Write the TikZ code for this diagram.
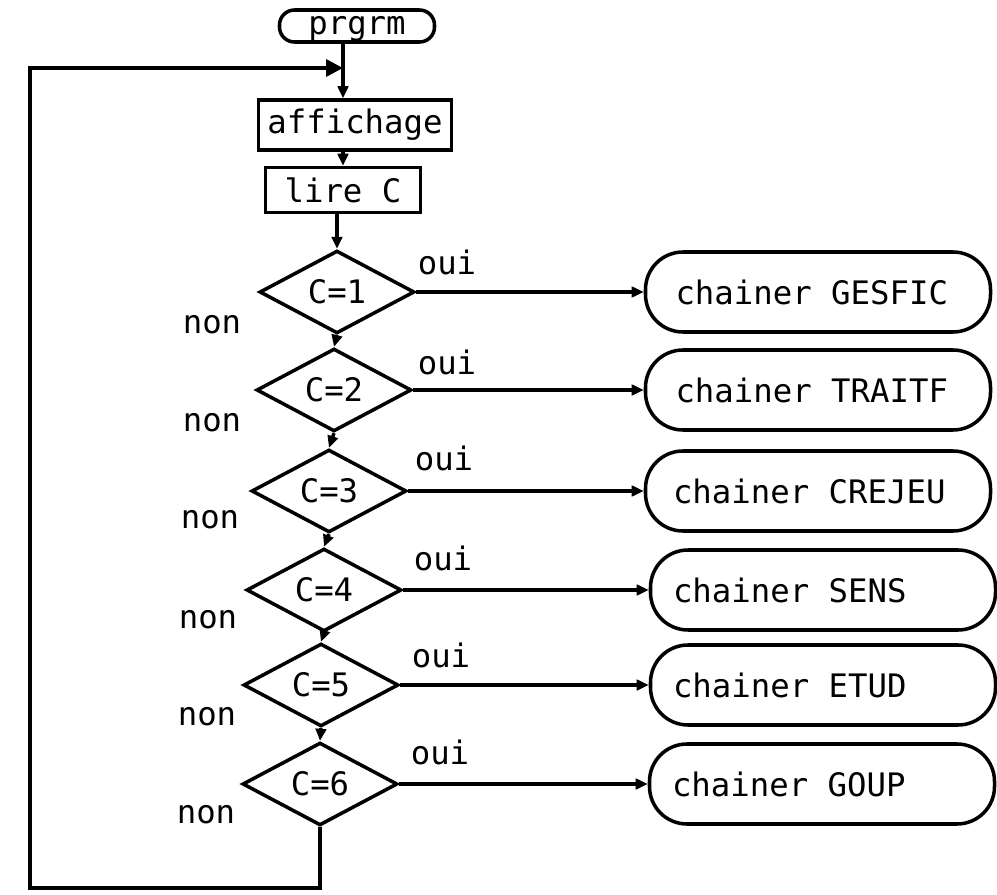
\documentclass[tikz,border=0pt]{standalone}
\usepackage{fontspec}
\setmonofont{DejaVu Sans Mono}
\usetikzlibrary{shapes.geometric, arrows.meta, positioning, calc}

\begin{document}
\begin{tikzpicture}[x=0.2mm, y=-0.2mm, line width=2pt,
  every node/.style={font=\ttfamily\fontsize{18.4}{22}\selectfont},
  term/.style={draw, rounded corners=3mm, minimum width=31mm, minimum height=6.4mm, inner sep=0pt, text height=10pt, text depth=0pt},
  proc/.style={draw, minimum height=9mm, inner sep=0pt},
  test/.style={draw, diamond, minimum width=31mm, minimum height=15.4mm, inner sep=0pt},
  chain/.style={draw, rounded corners=7.5mm, minimum width=69mm, minimum height=16mm, inner sep=0pt},
  flow/.style={-{Triangle[length=2.4mm,width=2.1mm]}}]
  \useasboundingbox (0,0) rectangle (997,895);

  % main column
  \node[term] (prgrm) at (357,26) {prgrm};
  \coordinate (join) at (343,68);
  \node[proc, minimum width=38.6mm, minimum height=10mm] (affich) at (355,125) {affichage};
  \node[proc, minimum width=31mm] (lire) at (343,190) {lire C};

  \node[test] (c1) at (337,292) {C=1};
  \node[test] (c2) at (334,390) {C=2};
  \node[test] (c3) at (329,491) {C=3};
  \node[test] (c4) at (324,590) {C=4};
  \node[test] (c5) at (321,685) {C=5};
  \node[test] (c6) at (320,784) {C=6};

  % programmes chaines
  \node[chain] (gesfic) at (818,292) {\makebox[57mm][l]{chainer GESFIC}};
  \node[chain] (traitf) at (818,390) {\makebox[57mm][l]{chainer TRAITF}};
  \node[chain] (crejeu) at (818,491) {\makebox[58mm][l]{chainer CREJEU}};
  \node[chain] (sens)   at (823,590) {\makebox[60mm][l]{chainer SENS}};
  \node[chain] (etud)   at (823,685) {\makebox[60mm][l]{chainer ETUD}};
  \node[chain] (goup)   at (822,784) {\makebox[60mm][l]{chainer GOUP}};

  % reponses
  \node (oui1) at (447,262) {oui};
  \node (oui2) at (447,362) {oui};
  \node (oui3) at (444,458) {oui};
  \node (oui4) at (443,558) {oui};
  \node (oui5) at (441,655) {oui};
  \node (oui6) at (440,752) {oui};
  \node (non1) at (212,325) {non};
  \node (non2) at (212,423) {non};
  \node (non3) at (210,520) {non};
  \node (non4) at (208,620) {non};
  \node (non5) at (207,717) {non};
  \node (non6) at (206,815) {non};

  % liaisons
  \draw[flow] (prgrm.south -| join) -- (affich.north -| join);
  \draw[flow] (affich.south -| lire) -- (lire.north);
  \draw[flow] (lire.south -| c1) -- (c1.north);
  \draw[flow] (c1.south) -- (c2.north);
  \draw[flow] (c2.south) -- (c3.north);
  \draw[flow] (c3.south) -- (c4.north);
  \draw[flow] (c4.south) -- (c5.north);
  \draw[flow] (c5.south) -- (c6.north);
  \draw[flow] (c1.east) -- (gesfic.west);
  \draw[flow] (c2.east) -- (traitf.west);
  \draw[flow] (c3.east) -- (crejeu.west);
  \draw[flow] (c4.east) -- (sens.west);
  \draw[flow] (c5.east) -- (etud.west);
  \draw[flow] (c6.east) -- (goup.west);

  % retour au menu
  \coordinate (back) at (30,888);
  \draw[-{Triangle[length=3.4mm,width=3.4mm]}] (c6.south) |- (back) |- (join);
\end{tikzpicture}
\end{document}
